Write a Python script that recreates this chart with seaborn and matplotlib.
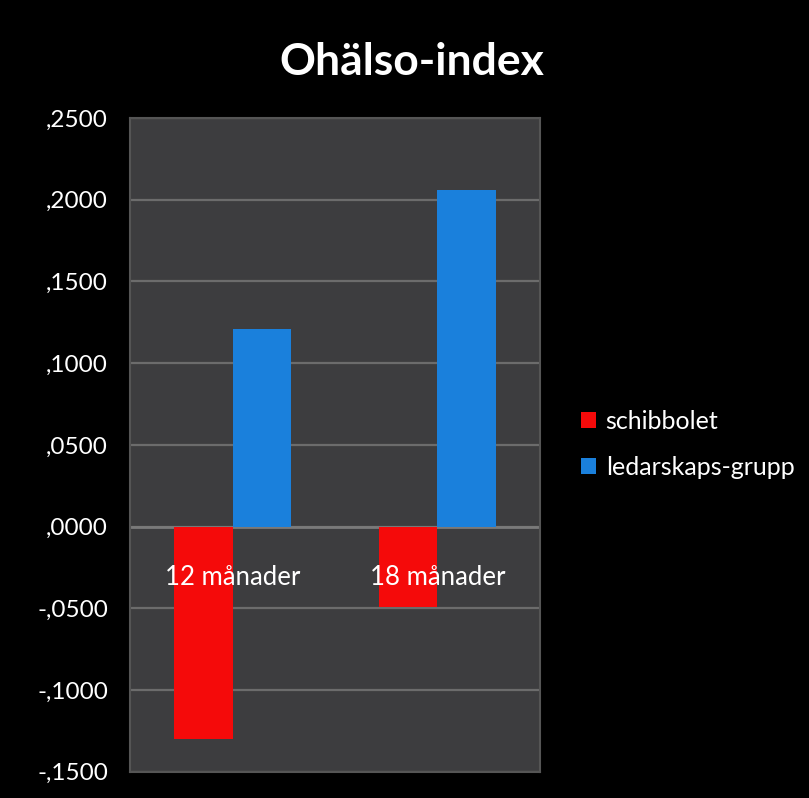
import pandas as pd
import matplotlib.pyplot as plt
import matplotlib.ticker as mticker
from matplotlib.patches import Patch
import seaborn as sns

periods = ["12 månader", "18 månader"]
groups = ["schibbolet", "ledarskaps-grupp"]
schibbolet = [-0.130, -0.049]
ledarskap = [0.121, 0.206]
palette = {"schibbolet": "#f50a0a", "ledarskaps-grupp": "#1a80dc"}

df = pd.DataFrame({
    "period": periods * 2,
    "grupp": [groups[0]] * 2 + [groups[1]] * 2,
    "varde": schibbolet + ledarskap,
})

sns.set_theme(style="dark")
plt.rcParams["font.family"] = ["Lato", "DejaVu Sans"]

fig = plt.figure(figsize=(8.09, 7.98), dpi=100, facecolor="black")
ax = fig.add_axes([0.161, 0.033, 0.506, 0.819])
ax.set_facecolor("#3d3d3f")

sns.barplot(data=df, x="period", y="varde", hue="grupp", hue_order=groups,
            palette=palette, width=0.57, saturation=1, ax=ax, legend=False,
            linewidth=0, zorder=3)

ax.set_xlim(-0.5, 1.5)
ax.set_ylim(-0.15, 0.25)
ax.yaxis.set_major_locator(mticker.MultipleLocator(0.05))
ax.yaxis.set_major_formatter(mticker.FuncFormatter(
    lambda v, p: f"{v:.4f}".replace("0.", ",", 1)))
ax.grid(axis="y", color="#6c6c6c", linewidth=1.6, zorder=1)
ax.grid(axis="x", visible=False)
ax.axhline(0, color="#7a7a7a", linewidth=2, zorder=2)
ax.tick_params(axis="y", colors="white", labelsize=17.5, length=0, pad=16)
ax.tick_params(axis="x", length=0, labelbottom=False)
ax.set_xlabel("")
ax.set_ylabel("")
for s in ax.spines.values():
    s.set_color("#555555")
    s.set_linewidth(1.5)

for i, p in enumerate(periods):
    ax.text(i, -0.031, p, color="white", fontsize=18.5, ha="center", va="center",
            zorder=5)

fig.text(0.509, 0.922, "Ohälso-index", color="white", fontsize=32,
         fontweight="bold", ha="center", va="center")

handles = [Patch(facecolor=palette[g], edgecolor="none", label=g) for g in groups]
leg = fig.legend(handles=handles, loc="center left", bbox_to_anchor=(0.69, 0.443),
                 frameon=False, fontsize=18, handlelength=0.6, handleheight=0.6,
                 handletextpad=0.4, labelspacing=0.9)
for t in leg.get_texts():
    t.set_color("white")

fig.savefig("out.png", dpi=100, facecolor="black")
